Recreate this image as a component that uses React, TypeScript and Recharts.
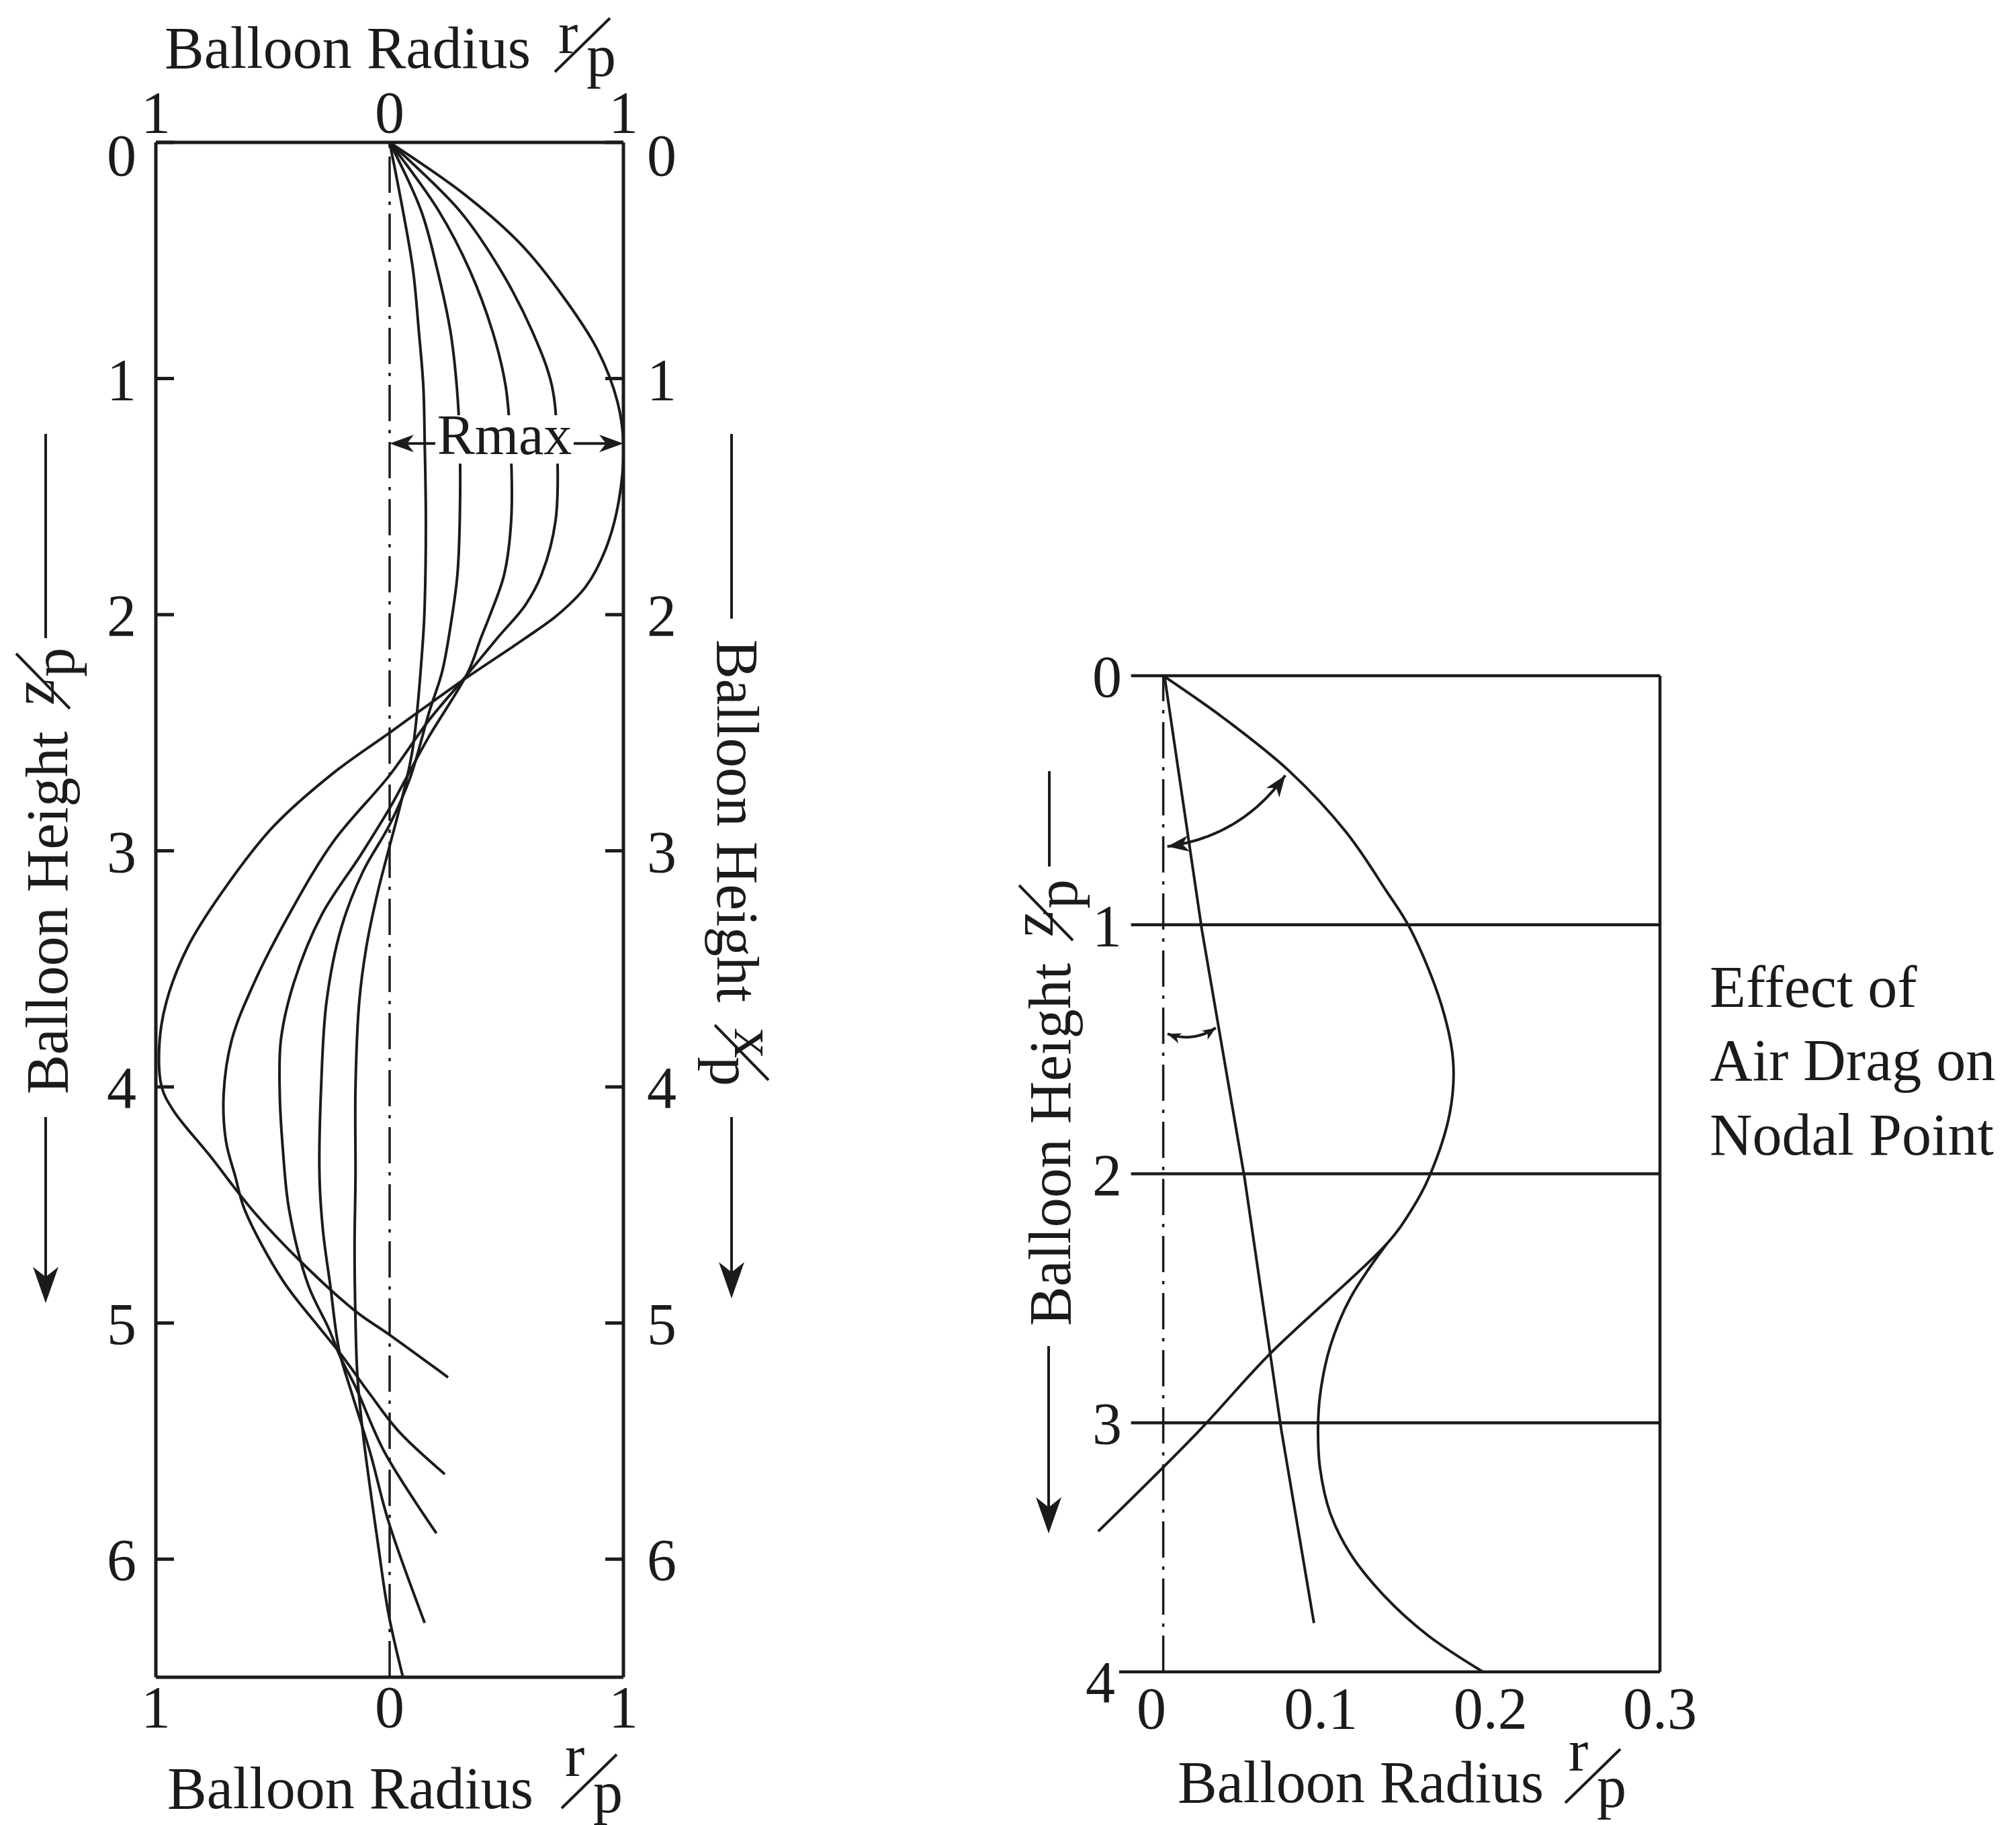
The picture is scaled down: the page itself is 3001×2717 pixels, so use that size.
import React from 'react';
import { LineChart, Line, XAxis, YAxis, ReferenceLine } from 'recharts';

const INK = '#1b1b1b';
const FONT = '"Liberation Serif", "Times New Roman", serif';

// ---- left panel: balloon profiles for five yarn tensions ----
const heightTicks = [0, 1, 2, 3, 4, 5, 6];
const radiusTicks = [-1, 0, 1];

const curveAz = [0, 0.22, 0.43, 0.65, 0.88, 1.1, 1.28, 1.52, 1.72, 1.88, 2.0, 2.1, 2.28, 2.4, 2.5, 2.67, 2.9, 3.18, 3.41, 3.64, 3.82, 4.0, 4.1, 4.29, 4.53, 4.74, 4.95, 5.05, 5.23];
const curveAr = [0, 0.32, 0.56, 0.74, 0.89, 0.975, 1.0, 0.98, 0.925, 0.84, 0.72, 0.58, 0.31, 0.14, 0, -0.24, -0.5, -0.72, -0.865, -0.955, -0.985, -0.975, -0.925, -0.77, -0.58, -0.38, -0.146, 0, 0.25];

const curveBz = [0, 0.29, 0.54, 0.8, 1.03, 1.27, 1.6, 1.83, 1.96, 2.1, 2.28, 2.45, 2.68, 2.96, 3.27, 3.56, 3.8, 4.03, 4.23, 4.38, 4.52, 4.82, 5.02, 5.13, 5.3, 5.46, 5.64];
const curveBr = [0, 0.3, 0.474, 0.61, 0.694, 0.716, 0.71, 0.65, 0.58, 0.46, 0.31, 0.166, 0, -0.24, -0.43, -0.58, -0.675, -0.71, -0.7, -0.66, -0.62, -0.457, -0.3, -0.21, -0.085, 0.04, 0.236];

const curveCz = [0, 0.29, 0.54, 0.8, 1.03, 1.27, 1.6, 1.83, 2.0, 2.1, 2.24, 2.52, 2.69, 2.82, 3.02, 3.27, 3.56, 3.8, 4.03, 4.26, 4.52, 4.84, 5.02, 5.15, 5.27, 5.55, 5.89];
const curveCr = [0, 0.21, 0.342, 0.44, 0.496, 0.517, 0.52, 0.49, 0.43, 0.39, 0.337, 0.166, 0.072, 0, -0.125, -0.29, -0.41, -0.465, -0.47, -0.457, -0.43, -0.348, -0.262, -0.208, -0.146, -0.02, 0.2];

const curveDz = [0, 0.29, 0.54, 0.8, 1.03, 1.27, 1.6, 1.83, 2.02, 2.24, 2.41, 2.69, 2.89, 3.09, 3.33, 3.64, 4.0, 4.38, 4.61, 4.84, 5.12, 5.3, 5.55, 5.84, 6.27];
const curveDr = [0, 0.135, 0.204, 0.26, 0.287, 0.3, 0.3, 0.29, 0.265, 0.225, 0.17, 0.088, 0, -0.115, -0.208, -0.27, -0.293, -0.3, -0.285, -0.254, -0.215, -0.161, -0.083, -0.005, 0.15];

const curveEz = [0, 0.29, 0.54, 0.8, 1.03, 1.27, 1.6, 1.96, 2.1, 2.56, 2.79, 2.98, 3.18, 3.41, 3.64, 4.0, 4.38, 4.68, 4.99, 5.22, 5.46, 5.92, 6.23, 6.5];
const curveEr = [0, 0.057, 0.1, 0.125, 0.144, 0.15, 0.155, 0.15, 0.143, 0.1, 0.05, 0, -0.052, -0.1, -0.13, -0.146, -0.146, -0.15, -0.146, -0.138, -0.115, -0.052, -0.005, 0.057];

const rmaxZ = 1.275;
const rmaxSpan = [0, 1];

// ---- right panel: effect of air drag on nodal point ----
const dragTicksZ = [0, 1, 2, 3, 4];
const dragTicksR = [0, 0.1, 0.2, 0.3];
const dragGridZ = [0, 1, 2, 3];
const dragGridStart = -0.012;
const dragBaseStart = -0.019;
const dragAxisR = 0.007;

const upperZ = [0, 0.172, 0.384, 0.629, 0.858, 1.02, 1.32, 1.547, 1.757, 2.01, 2.15, 2.28, 2.726, 3.036, 3.436];
const upperR = [0.007, 0.043, 0.0815, 0.115, 0.138, 0.153, 0.171, 0.178, 0.176, 0.164, 0.153, 0.139, 0.0695, 0.0276, -0.0314];

const lowerZ = [2.28, 2.497, 2.693, 2.889, 3.031, 3.183, 3.363, 3.527, 3.69, 3.853, 4.0];
const lowerR = [0.139, 0.1175, 0.1055, 0.0995, 0.0983, 0.0995, 0.1055, 0.1175, 0.1367, 0.163, 0.1956];

const nodeZ = [0, 1.021, 2.018, 3.031, 3.804];
const nodeR = [0.0077, 0.0298, 0.055, 0.0767, 0.0959];

const bigArrowZ = [0.4, 0.686];
const bigArrowR = [0.079, 0.0094];
const smallArrowZ = [1.438, 1.414];
const smallArrowR = [0.0095, 0.038];

const toPoints = (zs: number[], rs: number[]) => zs.map((z, i) => ({ z, r: rs[i] }));

const leftCurves = [
  toPoints(curveAz, curveAr),
  toPoints(curveBz, curveBr),
  toPoints(curveCz, curveCr),
  toPoints(curveDz, curveDr),
  toPoints(curveEz, curveEr),
];

const tickStyle = { fontSize: 88, fontFamily: FONT, fill: INK };
const textStyle = { fontSize: 88, fontFamily: FONT, fill: INK };

// centripetal Catmull-Rom, handed to recharts as a curve factory
const smoothCurve = (context: any) => {
  let pts: number[][] = [];
  return {
    areaStart() {},
    areaEnd() {},
    lineStart() {
      pts = [];
    },
    point(x: number, y: number) {
      pts.push([+x, +y]);
    },
    lineEnd() {
      if (!pts.length) return;
      context.moveTo(pts[0][0], pts[0][1]);
      for (let i = 0; i < pts.length - 1; i++) {
        const p0 = pts[i - 1] || pts[i];
        const p1 = pts[i];
        const p2 = pts[i + 1];
        const p3 = pts[i + 2] || pts[i + 1];
        const d01 = Math.sqrt(Math.hypot(p1[0] - p0[0], p1[1] - p0[1]));
        const d12 = Math.sqrt(Math.hypot(p2[0] - p1[0], p2[1] - p1[1]));
        const d23 = Math.sqrt(Math.hypot(p3[0] - p2[0], p3[1] - p2[1]));
        let c1x = p1[0];
        let c1y = p1[1];
        let c2x = p2[0];
        let c2y = p2[1];
        if (d01 > 1e-6) {
          const a = 2 * d01 * d01 + 3 * d01 * d12 + d12 * d12;
          const n = 3 * d01 * (d01 + d12);
          c1x = (p1[0] * a - p0[0] * d12 * d12 + p2[0] * d01 * d01) / n;
          c1y = (p1[1] * a - p0[1] * d12 * d12 + p2[1] * d01 * d01) / n;
        }
        if (d23 > 1e-6) {
          const b = 2 * d23 * d23 + 3 * d23 * d12 + d12 * d12;
          const m = 3 * d23 * (d23 + d12);
          c2x = (p2[0] * b + p1[0] * d23 * d23 - p3[0] * d12 * d12) / m;
          c2y = (p2[1] * b + p1[1] * d23 * d23 - p3[1] * d12 * d12) / m;
        }
        context.bezierCurveTo(c1x, c1y, c2x, c2y, p2[0], p2[1]);
      }
    },
  };
};

const arrowHead = (tx: number, ty: number, ux: number, uy: number, len: number, half: number) => {
  const bx = tx - ux * len;
  const by = ty - uy * len;
  const nx = -uy;
  const ny = ux;
  const mx = tx - ux * len * 0.72;
  const my = ty - uy * len * 0.72;
  return `M${tx},${ty} L${bx + nx * half},${by + ny * half} L${mx},${my} L${bx - nx * half},${by - ny * half} Z`;
};

const HeightTick = (props: any) => {
  const { x, y, payload, textAnchor } = props;
  const shift = payload.value === 0 ? 18 : 0;
  return (
    <text x={x} y={y + shift} dy="0.355em" textAnchor={textAnchor} {...tickStyle}>
      {payload.value}
    </text>
  );
};

const DragHeightTick = (props: any) => {
  const { x, y, payload, textAnchor } = props;
  const last = payload.value === dragTicksZ[dragTicksZ.length - 1];
  return (
    <text x={x - (last ? 10 : 0)} y={y + (last ? 14 : 0)} dy="0.355em" textAnchor={textAnchor} {...tickStyle}>
      {payload.value}
    </text>
  );
};

const RmaxShape = (props: any) => {
  const { x1, y1, x2 } = props;
  const cx = (x1 + x2) / 2;
  return (
    <g>
      <line x1={x1 + 10} y1={y1} x2={x2 - 10} y2={y1} stroke={INK} strokeWidth={4} />
      <path d={arrowHead(x1, y1, -1, 0, 36, 13)} fill={INK} />
      <path d={arrowHead(x2, y1, 1, 0, 36, 13)} fill={INK} />
      <rect x={cx - 106} y={y1 - 42} width={206} height={72} fill="#fff" />
      <text x={cx - 3} y={y1 + 16} textAnchor="middle" fontSize={84} fontFamily={FONT} fill={INK}>
        Rmax
      </text>
    </g>
  );
};

const bentArrow = (bulge: number, len: number, half: number) => (props: any) => {
  const { x1, y1, x2, y2 } = props;
  const dx = x2 - x1;
  const dy = y2 - y1;
  const d = Math.hypot(dx, dy) || 1;
  const cx = (x1 + x2) / 2 + (dy / d) * bulge * 2;
  const cy = (y1 + y2) / 2 + (-dx / d) * bulge * 2;
  const u = (ax: number, ay: number) => {
    const l = Math.hypot(ax, ay) || 1;
    return [ax / l, ay / l];
  };
  const [u1x, u1y] = u(x1 - cx, y1 - cy);
  const [u2x, u2y] = u(x2 - cx, y2 - cy);
  return (
    <g>
      <path d={`M${x1},${y1} Q${cx},${cy} ${x2},${y2}`} fill="none" stroke={INK} strokeWidth={4} />
      <path d={arrowHead(x1, y1, u1x, u1y, len, half)} fill={INK} />
      <path d={arrowHead(x2, y2, u2x, u2y, len, half)} fill={INK} />
    </g>
  );
};

const Fraction = ({ x, y, top, bottom, lift = 44 }: { x: number; y: number; top: string; bottom: string; lift?: number }) => (
  <g>
    <text x={x + 5} y={y - lift} {...textStyle}>{top}</text>
    <line x1={x} y1={y + 4} x2={x + 82} y2={y - 76} stroke={INK} strokeWidth={4} />
    <text x={x + 47} y={y + 10} {...textStyle}>{bottom}</text>
  </g>
);

const DownArrow = ({ x, from, tip }: { x: number; from: number; tip: number }) => (
  <g>
    <line x1={x} y1={from} x2={x} y2={tip - 30} stroke={INK} strokeWidth={4} />
    <path d={arrowHead(x, tip, 0, 1, 54, 19)} fill={INK} />
  </g>
);

const Overlay = () => (
  <svg width={3001} height={2717} style={{ position: 'absolute', left: 0, top: 0, pointerEvents: 'none' }}>
    {/* left panel radius labels */}
    <text x={245} y={101} {...textStyle}>Balloon Radius</text>
    <Fraction x={826} y={103} top="r" bottom="p" lift={24} />
    <text x={249} y={2692} {...textStyle}>Balloon Radius</text>
    <Fraction x={836} y={2688} top="r" bottom="p" />

    {/* left panel height labels */}
    <line x1={68} y1={646} x2={68} y2={950} stroke={INK} strokeWidth={4} />
    <g transform="translate(100,1629) rotate(-90)">
      <text x={0} y={0} {...textStyle}>Balloon Height</text>
      <Fraction x={574} y={0} top="z" bottom="p" lift={20} />
    </g>
    <DownArrow x={68} from={1663} tip={1940} />

    <line x1={1089} y1={646} x2={1089} y2={921} stroke={INK} strokeWidth={4} />
    <g transform="translate(1068,952) rotate(90)">
      <text x={0} y={0} {...textStyle}>Balloon Height</text>
      <Fraction x={574} y={0} top="x" bottom="p" lift={26} />
    </g>
    <DownArrow x={1089} from={1663} tip={1933} />

    {/* right panel labels */}
    <line x1={1562} y1={1148} x2={1562} y2={1290} stroke={INK} strokeWidth={4} />
    <g transform="translate(1593,1974) rotate(-90)">
      <text x={0} y={0} {...textStyle}>Balloon Height</text>
      <Fraction x={574} y={0} top="z" bottom="p" lift={26} />
    </g>
    <DownArrow x={1561} from={2004} tip={2283} />

    <text x={1753} y={2683} {...textStyle}>Balloon Radius</text>
    <Fraction x={2330} y={2680} top="r" bottom="p" />

    <text x={2545} y={1499} {...textStyle}>Effect of</text>
    <text x={2545} y={1608} {...textStyle}>Air Drag on</text>
    <text x={2545} y={1719} {...textStyle}>Nodal Point</text>
  </svg>
);

const BalloonPanel = () => (
  <LineChart
    width={1200}
    height={2717}
    layout="vertical"
    margin={{ top: 132, right: 172, bottom: 140, left: 132 }}
  >
    <XAxis
      xAxisId="top"
      orientation="top"
      type="number"
      domain={[-1, 1]}
      allowDataOverflow
      ticks={radiusTicks}
      interval={0}
      tickFormatter={(v: number) => String(Math.abs(v))}
      height={80}
      tickSize={0}
      tickMargin={15}
      tickLine={false}
      axisLine={{ stroke: INK, strokeWidth: 5 }}
      tick={tickStyle}
    />
    <XAxis
      xAxisId="bottom"
      orientation="bottom"
      type="number"
      domain={[-1, 1]}
      allowDataOverflow
      ticks={radiusTicks}
      interval={0}
      tickFormatter={(v: number) => String(Math.abs(v))}
      height={80}
      tickSize={0}
      tickMargin={12}
      tickLine={false}
      axisLine={{ stroke: INK, strokeWidth: 5 }}
      tick={tickStyle}
    />
    <YAxis
      yAxisId="left"
      orientation="left"
      type="number"
      dataKey="z"
      domain={[0, 6.5]}
      allowDataOverflow
      ticks={heightTicks}
      interval={0}
      width={100}
      tickSize={-27}
      tickMargin={56}
      tickLine={{ stroke: INK, strokeWidth: 5 }}
      axisLine={{ stroke: INK, strokeWidth: 5 }}
      tick={HeightTick}
    />
    <YAxis
      yAxisId="right"
      orientation="right"
      type="number"
      dataKey="z"
      domain={[0, 6.5]}
      allowDataOverflow
      ticks={heightTicks}
      interval={0}
      width={100}
      tickSize={-27}
      tickMargin={62}
      tickLine={{ stroke: INK, strokeWidth: 5 }}
      axisLine={{ stroke: INK, strokeWidth: 5 }}
      tick={HeightTick}
    />
    <ReferenceLine
      xAxisId="bottom"
      yAxisId="left"
      x={0}
      stroke={INK}
      strokeWidth={3.5}
      strokeDasharray="54 13 5 13"
    />
    {leftCurves.map((pts, i) => (
      <Line
        key={i}
        xAxisId="bottom"
        yAxisId="left"
        data={pts}
        dataKey="r"
        type={smoothCurve as any}
        stroke={INK}
        strokeWidth={4}
        dot={false}
        activeDot={false}
        isAnimationActive={false}
      />
    ))}
    <ReferenceLine
      xAxisId="bottom"
      yAxisId="left"
      segment={[
        { x: rmaxSpan[0], y: rmaxZ },
        { x: rmaxSpan[1], y: rmaxZ },
      ]}
      shape={RmaxShape}
      zIndex={2500}
    />
  </LineChart>
);

const DragPanel = () => (
  <LineChart
    width={1300}
    height={1917}
    layout="vertical"
    margin={{ top: 206, right: 129, bottom: 128, left: 213 }}
  >
    <XAxis
      type="number"
      domain={[-0.04, 0.3]}
      allowDataOverflow
      ticks={dragTicksR}
      interval={0}
      height={100}
      tickSize={0}
      tickMargin={22}
      tickLine={false}
      axisLine={false}
      tick={tickStyle}
    />
    <YAxis
      type="number"
      dataKey="z"
      domain={[0, 4]}
      allowDataOverflow
      ticks={dragTicksZ}
      interval={0}
      width={100}
      tickSize={0}
      tickMargin={-57}
      tickLine={false}
      axisLine={false}
      tick={DragHeightTick}
    />
    {dragGridZ.map((z) => (
      <ReferenceLine
        key={z}
        segment={[
          { x: dragGridStart, y: z },
          { x: dragTicksR[3], y: z },
        ]}
        stroke={INK}
        strokeWidth={4.5}
      />
    ))}
    <ReferenceLine
      segment={[
        { x: dragBaseStart, y: 4 },
        { x: dragTicksR[3], y: 4 },
      ]}
      stroke={INK}
      strokeWidth={4.5}
    />
    <ReferenceLine x={dragTicksR[3]} stroke={INK} strokeWidth={4.5} />
    <ReferenceLine x={dragAxisR} stroke={INK} strokeWidth={3.5} strokeDasharray="54 13 5 13" />
    <Line data={toPoints(upperZ, upperR)} dataKey="r" type={smoothCurve as any} stroke={INK} strokeWidth={4} dot={false} activeDot={false} isAnimationActive={false} />
    <Line data={toPoints(lowerZ, lowerR)} dataKey="r" type={smoothCurve as any} stroke={INK} strokeWidth={4} dot={false} activeDot={false} isAnimationActive={false} />
    <Line data={toPoints(nodeZ, nodeR)} dataKey="r" type="linear" stroke={INK} strokeWidth={4} dot={false} activeDot={false} isAnimationActive={false} />
    <ReferenceLine
      segment={[
        { x: bigArrowR[0], y: bigArrowZ[0] },
        { x: bigArrowR[1], y: bigArrowZ[1] },
      ]}
      shape={bentArrow(22, 32, 12)}
    />
    <ReferenceLine
      segment={[
        { x: smallArrowR[0], y: smallArrowZ[0] },
        { x: smallArrowR[1], y: smallArrowZ[1] },
      ]}
      shape={bentArrow(-9, 20, 8)}
    />
  </LineChart>
);

export default function App() {
  return (
    <div style={{ position: 'absolute', left: 0, top: 0, width: 3001, height: 2717, background: '#fff', overflow: 'hidden' }}>
      <div style={{ position: 'absolute', left: 0, top: 0 }}>
        <BalloonPanel />
      </div>
      <div style={{ position: 'absolute', left: 1300, top: 800 }}>
        <DragPanel />
      </div>
      <Overlay />
    </div>
  );
}
